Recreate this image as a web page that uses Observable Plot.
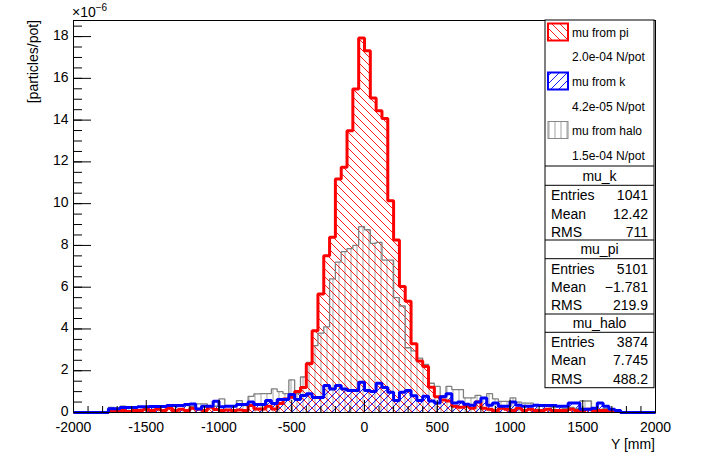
<!DOCTYPE html>
<html><head><meta charset="utf-8">
<script src="https://cdn.jsdelivr.net/npm/d3@7"></script>
<script src="https://cdn.jsdelivr.net/npm/@observablehq/plot@0.6"></script>
<style>
body{margin:0;background:#fff;}
#chart svg{display:block;}
</style></head><body><div id="chart"></div>
<script>
// ---- data (particles/pot, x1e-6), 100 bins of 40 mm from -2000 to 2000 ----
const binStart = -2000, binWidth = 40;
const muPi = [
 0,0,0,0,0,0, 0.1,0.05,0.1,0.05,0.1,0.1,
 0.15,0.1,0.15,0.1,0.2,0.1, 0.15,0.1,0.2,0.15,0.1,0.25,
 0.14,0.1,0.12,0.1,0.12,0.1, 0.33,0.17,0.17,0.3,0.17,0.43,
 0.65,0.73,1.0,1.2,2.33,3.92, 5.68,7.51,8.39,11.18,11.74,13.49,
 15.49,17.93,17.32,15.06,14.45,14.08, 10.14,8.26,6.03,5.33,3.29,2.46,
 2.2,1.21,0.75,0.6,0.55,0.3, 0.25,0.3,0.2,0.5,0.2,0.15,
 0.1,0.2,0.15,0.1,0.2,0.1, 0.15,0.1,0.1,0.15,0.1,0.1,
 0.1,0.15,0.1,0.1,0.15,0.1, 0.1,0.1,0.05,0.1,0,0, 0,0,0,0];
const muK = [
 0,0,0,0,0,0, 0.18,0.18,0.24,0.24,0.24,0.27,
 0.27,0.29,0.29,0.29,0.33,0.33, 0.33,0.38,0.41,0.17,0.3,0.3,
 0.54,0.27,0.3,0.3,0.38,0.38, 0.5,0.38,0.38,0.57,0.43,0.62,
 0.62,0.86,0.62,0.81,0.9,0.72, 0.72,1.29,1.13,1.29,1.13,1.05,
 1.05,1.45,1.05,1.0,1.4,1.2, 0.97,0.57,0.97,1.05,0.8,0.57,
 0.78,0.55,0.45,0.75,0.9,0.45, 0.5,0.4,0.35,0.5,0.7,0.35,
 0.45,0.3,0.3,0.5,0.35,0.3, 0.3,0.35,0.33,0.33,0.33,0.3,
 0.3,0.45,0.45,0.15,0.15,0.2, 0.45,0.3,0.15,0.1,0,0, 0,0,0,0];
const muHalo = [
 0,0,0,0,0,0, 0.25,0.2,0.3,0.25,0.2,0.25,
 0.2,0.3,0.25,0.3,0.2,0.35, 0.3,0.33,0.3,0.41,0.41,0.3,
 0.3,0.65,0.33,0.33,0.57,0.33, 0.77,0.89,0.9,0.9,1.13,1.0,
 0.9,1.56,0.9,1.7,2.4,3.2, 3.8,4.1,6.4,7.2,7.7,7.85,
 8.0,8.9,8.75,8.1,8.15,7.3, 7.3,5.5,5.1,3.1,2.95,2.6,
 2.3,1.4,1.25,0.81,1.25,1.1, 1.1,0.7,0.7,0.82,0.7,0.9,
 0.65,0.53,0.53,0.7,0.5,0.45, 0.45,0.33,0.33,0.33,0.25,0.3,
 0.2,0.25,0.2,0.55,0.55,0.2, 0.15,0.2,0.15,0.1,0,0, 0,0,0,0];

const xMajorTicks = [-2000,-1500,-1000,-500,0,500,1000,1500,2000];
const xMinorTicks = d3.range(-2000, 2001, 100);
const yMajorTicks = [0,2,4,6,8,10,12,14,16,18];
const yMinorTicks = d3.range(0, 18.6, 0.5);

const legendNames = ["mu from pi","mu from k","mu from halo"];
const legendRates = ["2.0e-04 N/pot","4.2e-05 N/pot","1.5e-04 N/pot"];
const statTitles = ["mu_k","mu_pi","mu_halo"];
const statEntries = ["1041","5101","3874"];
const statMeans = ["12.42","\u22121.781","7.745"];
const statRms = ["711","219.9","488.2"];

// ---- layout ----
const W = 725, H = 460, mL = 73, mR = 70, mT = 20, mB = 48;
const fw = W - mL - mR, fh = H - mT - mB;
const font = "'Liberation Sans', Arial, Helvetica, sans-serif";

function steps(vals){
  const pts = vals.map((v,i)=>({x: binStart + i*binWidth, y: v}));
  pts.push({x: binStart + vals.length*binWidth, y: vals[vals.length-1]});
  return pts;
}
const sPi = steps(muPi), sK = steps(muK), sHalo = steps(muHalo);

const plot = Plot.plot({
  width: W, height: H,
  marginLeft: mL, marginRight: mR, marginTop: mT, marginBottom: mB,
  style: {fontFamily: font, fontSize: "14px", color: "#000", background: "#fff"},
  x: {domain: [-2000, 2000], label: null},
  y: {domain: [0, 18.77], label: null},
  marks: [
    Plot.areaY(sHalo, {x: "x", y: "y", curve: "step-after", fill: "url(#hGrey)"}),
    Plot.areaY(sPi, {x: "x", y: "y", curve: "step-after", fill: "url(#hRed)"}),
    Plot.areaY(sK, {x: "x", y: "y", curve: "step-after", fill: "url(#hBlue)"}),
    Plot.lineY(sHalo, {x: "x", y: "y", curve: "step-after", stroke: "#808080", strokeWidth: 1.3, strokeLinejoin: "miter", strokeLinecap: "butt"}),
    Plot.lineY(sPi, {x: "x", y: "y", curve: "step-after", stroke: "#ff0000", strokeWidth: 3, strokeLinejoin: "miter", strokeLinecap: "butt"}),
    Plot.lineY(sK, {x: "x", y: "y", curve: "step-after", stroke: "#0000ff", strokeWidth: 3, strokeLinejoin: "miter", strokeLinecap: "butt"}),
    Plot.tickX(xMinorTicks, {x: d => d, stroke: "#000", insetTop: fh - 6}),
    Plot.tickX(xMajorTicks, {x: d => d, stroke: "#000", insetTop: fh - 12}),
    Plot.tickY(yMinorTicks, {y: d => d, stroke: "#000", insetRight: fw - 9}),
    Plot.tickY(yMajorTicks, {y: d => d, stroke: "#000", insetRight: fw - 18}),
    Plot.frame({stroke: "#000", strokeWidth: 1}),
    Plot.axisX({ticks: xMajorTicks, tickSize: 0, tickPadding: 10, tickFormat: d => String(d), fontSize: 14, label: null}),
    Plot.axisY({ticks: yMajorTicks, tickSize: 0, tickPadding: 5, dy: -1, tickFormat: d => String(d), fontSize: 14, label: null})
  ]
});
document.getElementById("chart").appendChild(plot);

const svg = d3.select(plot);
const defs = svg.insert("defs", ":first-child");
function pattern(id, w, d, color, sw){
  const p = defs.append("pattern").attr("id", id).attr("patternUnits", "userSpaceOnUse")
    .attr("width", w).attr("height", w);
  p.append("path").attr("d", d).attr("stroke", color).attr("stroke-width", sw).attr("fill", "none");
}
pattern("hRed", 8, "M-2,-2L10,10M-2,6L2,10M6,-2L10,2", "#ff0000", 0.9);
pattern("hBlue", 8, "M-2,10L10,-2M-2,2L2,-2M6,10L10,6", "#0000ff", 0.9);
pattern("hGrey", 6, "M3,0L3,6", "#bdbdbd", 1.4);

const g = svg.append("g").attr("font-family", font).attr("fill", "#000").attr("text-anchor", "start");
// exponent
const ex = g.append("text").attr("x", 72).attr("y", 17).attr("font-size", 14);
ex.append("tspan").text("\u00d710");
ex.append("tspan").attr("font-size", 10).attr("dy", -6).text("\u22126");
// axis titles
g.append("text").attr("transform", "translate(38,20) rotate(-90)").attr("text-anchor", "end")
  .attr("font-size", 14).text("[particles/pot]");
g.append("text").attr("x", 655).attr("y", 449).attr("text-anchor", "end").attr("font-size", 14).text("Y [mm]");

// legend + stats boxes
const bx0 = 545, bx1 = 654;
g.append("rect").attr("x", bx0).attr("y", 20).attr("width", bx1 - bx0).attr("height", 367.7)
  .attr("fill", "#fff").attr("stroke", "#000").attr("stroke-width", 1);
const swFill = ["url(#hRed)","url(#hBlue)","url(#hGrey)"];
const swStroke = ["#ff0000","#0000ff","#888"];
const swW = [2,2,1];
const entryY = [33, 82, 131], rateY = [57, 107, 156];
legendNames.forEach((n,i)=>{
  g.append("rect").attr("x", 548).attr("y", entryY[i]-9.5).attr("width", 20).attr("height", 17)
    .attr("fill", swFill[i]).attr("stroke", swStroke[i]).attr("stroke-width", swW[i]);
  g.append("text").attr("x", 572).attr("y", entryY[i]).attr("dy", "0.35em").attr("font-size", 12).text(n);
  g.append("text").attr("x", 572).attr("y", rateY[i]).attr("dy", "0.35em").attr("font-size", 12).text(legendRates[i]);
});
const sepY = [166, 185.3, 240, 258.7, 314, 332.3];
sepY.forEach(y => g.append("line").attr("x1", bx0).attr("x2", bx1).attr("y1", y).attr("y2", y).attr("stroke", "#000"));
const titleY = [175.7, 249.3, 323.3];
const rowY = [[195, 214, 232], [268.7, 286.7, 305], [341.7, 360, 379]];
statTitles.forEach((t,i)=>{
  g.append("text").attr("x", (bx0+bx1)/2).attr("y", titleY[i]).attr("dy", "0.35em").attr("text-anchor", "middle").attr("font-size", 14).text(t);
  const labels = ["Entries","Mean","RMS"], vals = [statEntries[i], statMeans[i], statRms[i]];
  labels.forEach((l,j)=>{
    g.append("text").attr("x", 551).attr("y", rowY[i][j]).attr("dy", "0.35em").attr("font-size", 14).text(l);
    g.append("text").attr("x", 648).attr("y", rowY[i][j]).attr("dy", "0.35em").attr("text-anchor", "end").attr("font-size", 14).text(vals[j]);
  });
});
</script></body></html>
